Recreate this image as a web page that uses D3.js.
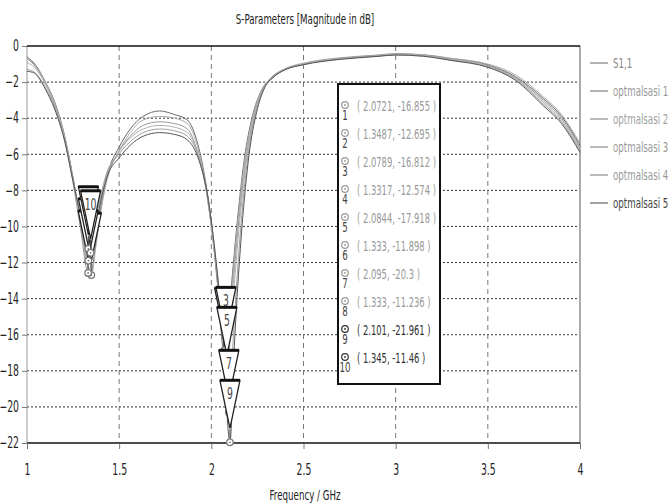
<!DOCTYPE html>
<html>
<head>
<meta charset="utf-8">
<script src="https://cdn.jsdelivr.net/npm/d3@7"></script>
<style>
  body { margin: 0; background: #fff; }
  text { font-family: "DejaVu Sans", sans-serif; }
</style>
</head>
<body>
<div id="chart"></div>
<script>
const margin = { top: 46, right: 91, bottom: 61, left: 27 };
const width = 671 - margin.left - margin.right;
const height = 504 - margin.top - margin.bottom;

// tick values
const xTicks = [1, 1.5, 2, 2.5, 3, 3.5, 4];
const yTicks = [0, -2, -4, -6, -8, -10, -12, -14, -16, -18, -20, -22];

// curves, [frequency GHz, dB]
const s11 = [[1.00,-0.6],[1.05,-1.1],[1.10,-2.0],[1.15,-3.1],[1.20,-4.8],[1.25,-7.3],[1.29,-9.8],[1.32,-11.7],[1.345,-12.7],[1.37,-11.2],[1.40,-9.0],[1.44,-7.0],[1.50,-5.6],[1.56,-4.6],[1.63,-3.9],[1.72,-3.6],[1.80,-3.8],[1.87,-4.1],[1.92,-5.2],[1.96,-7.0],[2.00,-9.8],[2.035,-13.4],[2.068,-16.9],[2.10,-14.2],[2.14,-9.8],[2.18,-6.2],[2.22,-4.0],[2.27,-2.5],[2.32,-1.8],[2.40,-1.3],[2.50,-1.0],[2.70,-0.7],[2.90,-0.55],[3.00,-0.45],[3.15,-0.5],[3.30,-0.7],[3.50,-1.05],[3.65,-1.7],[3.80,-2.9],[3.90,-3.9],[4.00,-5.5]];
const opt1 = [[1.00,-0.65],[1.05,-1.15],[1.10,-2.0],[1.15,-3.2],[1.20,-4.9],[1.25,-7.4],[1.29,-9.9],[1.32,-11.8],[1.3487,-12.695],[1.375,-11.0],[1.40,-9.2],[1.44,-7.2],[1.50,-5.8],[1.56,-4.8],[1.63,-4.1],[1.72,-3.9],[1.80,-4.0],[1.87,-4.3],[1.92,-5.4],[1.96,-7.2],[2.00,-10.0],[2.04,-13.6],[2.0721,-16.855],[2.105,-14.0],[2.145,-9.6],[2.185,-6.1],[2.225,-3.9],[2.27,-2.5],[2.32,-1.8],[2.40,-1.25],[2.50,-0.95],[2.70,-0.65],[2.90,-0.5],[3.00,-0.42],[3.15,-0.48],[3.30,-0.68],[3.50,-1.0],[3.65,-1.6],[3.80,-2.8],[3.90,-3.8],[4.00,-5.4]];
const opt2 = [[1.00,-0.7],[1.05,-1.2],[1.10,-2.1],[1.15,-3.3],[1.20,-5.0],[1.25,-7.6],[1.29,-10.1],[1.3317,-12.574],[1.36,-11.3],[1.39,-9.4],[1.43,-7.4],[1.49,-6.0],[1.56,-5.0],[1.63,-4.4],[1.72,-4.2],[1.80,-4.3],[1.87,-4.6],[1.92,-5.7],[1.965,-7.6],[2.005,-10.4],[2.045,-14.0],[2.0789,-16.812],[2.11,-14.0],[2.15,-9.6],[2.19,-6.1],[2.23,-3.9],[2.275,-2.5],[2.33,-1.8],[2.40,-1.3],[2.50,-1.0],[2.70,-0.68],[2.90,-0.52],[3.00,-0.44],[3.15,-0.5],[3.30,-0.72],[3.50,-1.08],[3.65,-1.75],[3.80,-3.0],[3.90,-4.0],[4.00,-5.6]];
const opt3 = [[1.00,-0.9],[1.05,-1.3],[1.10,-2.1],[1.15,-3.2],[1.20,-4.9],[1.25,-7.4],[1.29,-9.7],[1.333,-11.898],[1.36,-10.8],[1.39,-9.0],[1.43,-7.2],[1.49,-6.0],[1.56,-5.1],[1.63,-4.6],[1.72,-4.4],[1.80,-4.5],[1.87,-4.8],[1.925,-5.9],[1.97,-7.8],[2.01,-10.8],[2.05,-14.4],[2.0844,-17.918],[2.115,-14.4],[2.155,-9.6],[2.195,-6.0],[2.235,-3.8],[2.28,-2.4],[2.33,-1.75],[2.40,-1.3],[2.50,-1.0],[2.70,-0.7],[2.90,-0.55],[3.00,-0.46],[3.15,-0.52],[3.30,-0.74],[3.50,-1.1],[3.65,-1.8],[3.80,-3.1],[3.90,-4.1],[4.00,-5.7]];
const opt4 = [[1.00,-1.3],[1.04,-1.45],[1.07,-1.8],[1.10,-2.3],[1.15,-3.4],[1.20,-5.0],[1.25,-7.4],[1.29,-9.4],[1.333,-11.236],[1.36,-10.4],[1.39,-8.8],[1.43,-7.1],[1.49,-6.1],[1.56,-5.3],[1.63,-4.8],[1.72,-4.6],[1.80,-4.7],[1.87,-5.0],[1.93,-6.1],[1.975,-8.0],[2.015,-11.0],[2.055,-15.0],[2.095,-20.3],[2.12,-16.0],[2.16,-10.0],[2.20,-6.0],[2.24,-3.7],[2.285,-2.35],[2.335,-1.7],[2.40,-1.3],[2.50,-1.02],[2.70,-0.72],[2.90,-0.56],[3.00,-0.48],[3.15,-0.55],[3.30,-0.78],[3.50,-1.15],[3.65,-1.85],[3.80,-3.2],[3.90,-4.2],[4.00,-5.8]];
const opt5 = [[1.00,-1.4],[1.04,-1.5],[1.07,-1.85],[1.10,-2.4],[1.15,-3.5],[1.20,-5.1],[1.25,-7.5],[1.29,-9.4],[1.32,-10.9],[1.345,-11.46],[1.37,-10.4],[1.40,-8.6],[1.44,-7.1],[1.50,-6.2],[1.56,-5.5],[1.63,-5.0],[1.72,-4.8],[1.80,-4.9],[1.87,-5.2],[1.935,-6.4],[1.98,-8.3],[2.02,-11.4],[2.06,-15.6],[2.101,-21.961],[2.125,-16.6],[2.165,-10.2],[2.205,-6.0],[2.245,-3.7],[2.29,-2.3],[2.34,-1.7],[2.40,-1.32],[2.50,-1.04],[2.70,-0.74],[2.90,-0.58],[3.00,-0.5],[3.15,-0.57],[3.30,-0.8],[3.50,-1.18],[3.65,-1.9],[3.80,-3.3],[3.90,-4.3],[4.00,-5.9]];

const seriesNames = ["S1,1", "optmalsasi 1", "optmalsasi 2", "optmalsasi 3", "optmalsasi 4", "optmalsasi 5"];
const seriesData = [s11, opt1, opt2, opt3, opt4, opt5];
const seriesColors = ["#6a6a6a", "#a8a8a8", "#9a9a9a", "#b0b0b0", "#a0a0a0", "#555555"];
const legendLineColors = ["#666", "#666", "#777", "#777", "#777", "#444"];
const legendTextColors = ["#888", "#999", "#a0a0a0", "#999", "#999", "#444"];

// markers 1..10
const markerFreq = [2.0721, 1.3487, 2.0789, 1.3317, 2.0844, 1.333, 2.095, 1.333, 2.101, 1.345];
const markerDb = [-16.855, -12.695, -16.812, -12.574, -17.918, -11.898, -20.3, -11.236, -21.961, -11.46];
const markerLabels = ["( 2.0721, -16.855 )", "( 1.3487, -12.695 )", "( 2.0789, -16.812 )", "( 1.3317, -12.574 )", "( 2.0844, -17.918 )",
  "( 1.333, -11.898 )", "( 2.095, -20.3 )", "( 1.333, -11.236 )", "( 2.101, -21.961 )", "( 1.345, -11.46 )"];
const markerTextColors = ["#999", "#999", "#999", "#999", "#999", "#999", "#999", "#999", "#333", "#333"];

// squeeze text horizontally (the original font is a narrow one)
function narrow(sel, s) {
  sel.each(function () {
    const t = d3.select(this);
    const x = +t.attr("x") || 0;
    t.attr("x", 0).attr("transform", `translate(${x},0) scale(${s},1)`);
  });
}

const svg = d3.select("#chart")
  .append("svg")
  .attr("width", width + margin.left + margin.right)
  .attr("height", height + margin.top + margin.bottom)
  .append("g")
  .attr("transform", `translate(${margin.left}, ${margin.top})`);

const xScale = d3.scaleLinear().domain([1, 4]).range([0, width]);
const yScale = d3.scaleLinear().domain([-22, 0]).range([height, 0]);

// grid
svg.selectAll(".hgrid")
  .data(yTicks.slice(1, -1))
  .join("line")
  .attr("x1", 0).attr("x2", width)
  .attr("y1", d => yScale(d)).attr("y2", d => yScale(d))
  .attr("stroke", "#333")
  .attr("stroke-dasharray", "2,2");

svg.selectAll(".vgrid")
  .data(xTicks.slice(1, -1))
  .join("line")
  .attr("x1", d => xScale(d)).attr("x2", d => xScale(d))
  .attr("y1", 0).attr("y2", height)
  .attr("stroke", "#777")
  .attr("stroke-dasharray", "5,4");

// frame
svg.append("line").attr("x1", 0).attr("x2", 0).attr("y1", 0).attr("y2", height).attr("stroke", "#999");
svg.append("line").attr("x1", width).attr("x2", width).attr("y1", 0).attr("y2", height).attr("stroke", "#aaa").attr("stroke-width", 2);
svg.append("line").attr("x1", 0).attr("x2", width).attr("y1", 0).attr("y2", 0).attr("stroke", "#111").attr("stroke-width", 1.5);
svg.append("line").attr("x1", 0).attr("x2", width).attr("y1", height).attr("y2", height).attr("stroke", "#111").attr("stroke-width", 1.5);

// axes
const xAxis = svg.append("g")
  .attr("transform", `translate(0, ${height})`)
  .call(d3.axisBottom(xScale).tickValues(xTicks).tickFormat(d3.format("")).tickSize(6).tickPadding(15));
const yAxis = svg.append("g")
  .call(d3.axisLeft(yScale).tickValues(yTicks).tickFormat(d3.format("")).tickSize(5).tickPadding(3));
[xAxis, yAxis].forEach(a => {
  a.select(".domain").remove();
  a.selectAll(".tick line").attr("stroke", "#777");
  a.selectAll(".tick text").attr("fill", "#222").style("font-size", "15px")
    .style("font-family", '"DejaVu Sans", sans-serif');
  narrow(a.selectAll(".tick text"), 0.62);
});

// curves
const line = d3.line()
  .x(d => xScale(d[0]))
  .y(d => yScale(d[1]))
  .curve(d3.curveMonotoneX);

svg.selectAll(".curve")
  .data(seriesData)
  .join("path")
  .attr("class", "curve")
  .attr("fill", "none")
  .attr("stroke", (d, i) => seriesColors[i])
  .attr("stroke-width", 1)
  .attr("d", line);

// markers on curves
markerFreq.forEach((f, i) => {
  const px = xScale(f), py = yScale(markerDb[i]);
  const g = svg.append("g").attr("transform", `translate(${px}, ${py})`);
  g.append("line").attr("x1", 0).attr("x2", 0).attr("y1", -13).attr("y2", -4).attr("stroke", "#444");
  g.append("path")
    .attr("d", "M-10,-62 L10,-62 L0,-14 Z")
    .attr("fill", "#fff")
    .attr("stroke", "#222")
    .attr("stroke-width", 1.3);
  g.append("line").attr("x1", -10).attr("x2", 10).attr("y1", -62).attr("y2", -62)
    .attr("stroke", "#111").attr("stroke-width", 3);
  const t = g.append("text")
    .attr("x", 0).attr("y", -43)
    .attr("text-anchor", "middle")
    .style("font-size", "15px")
    .attr("fill", "#444")
    .text(i + 1);
  narrow(t, 0.62);
  g.append("circle").attr("r", 3.3).attr("fill", "#fff").attr("stroke", "#777").attr("stroke-width", 1.2);
  g.append("circle").attr("r", 0.9).attr("fill", "#777");
});

// marker readout box
const box = svg.append("g").attr("transform", `translate(${338 - margin.left}, ${84 - margin.top})`);
box.append("rect")
  .attr("x", 0).attr("y", 0)
  .attr("width", 102).attr("height", 300)
  .attr("fill", "#fff")
  .attr("stroke", "#111")
  .attr("stroke-width", 2);

const rows = box.selectAll(".row")
  .data(markerLabels)
  .join("g")
  .attr("transform", (d, i) => `translate(0, ${27 + i * 28})`);

rows.append("circle").attr("cx", 7).attr("cy", -6).attr("r", 3.3)
  .attr("fill", "none").attr("stroke", (d, i) => markerTextColors[i]).attr("stroke-width", 1.2);
rows.append("circle").attr("cx", 7).attr("cy", -6).attr("r", 0.9)
  .attr("fill", (d, i) => markerTextColors[i]);
narrow(rows.append("text")
  .attr("x", i => 7).attr("y", 9)
  .attr("text-anchor", "middle")
  .style("font-size", "14px")
  .attr("fill", "#444")
  .text((d, i) => i + 1), 0.62);
narrow(rows.append("text")
  .attr("x", 19).attr("y", 0)
  .style("font-size", "14px")
  .attr("fill", (d, i) => markerTextColors[i])
  .text(d => d), 0.6);

// legend
const legend = svg.append("g")
  .attr("transform", `translate(${width + 10}, 0)`)
  .selectAll("g")
  .data(seriesNames)
  .join("g")
  .attr("transform", (d, i) => `translate(0, ${17 + i * 28})`);

legend.append("line")
  .attr("x1", 0).attr("x2", 18)
  .attr("stroke", (d, i) => legendLineColors[i]);

narrow(legend.append("text")
  .attr("x", 23).attr("y", 0)
  .attr("dy", ".35em")
  .style("font-size", "14px")
  .attr("fill", (d, i) => legendTextColors[i])
  .text(d => d), 0.62);

// title and axis label
narrow(svg.append("text")
  .attr("x", 278).attr("y", -22)
  .attr("text-anchor", "middle")
  .style("font-size", "14px")
  .attr("fill", "#222")
  .text("S-Parameters [Magnitude in dB]"), 0.62);

narrow(svg.append("text")
  .attr("x", 278).attr("y", height + 57)
  .attr("text-anchor", "middle")
  .style("font-size", "14px")
  .attr("fill", "#222")
  .text("Frequency / GHz"), 0.62);
</script>
</body>
</html>
